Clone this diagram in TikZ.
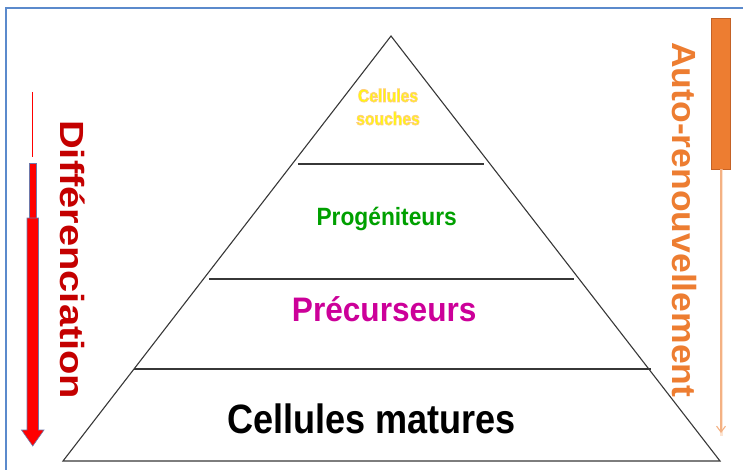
\documentclass[tikz,border=0pt]{standalone}
\usepackage{fontspec}
\setmainfont{Liberation Sans}
\usepackage{graphicx}
\usetikzlibrary{arrows.meta}
\definecolor{framecol}{RGB}{91,138,204}
\definecolor{diffred}{RGB}{196,0,0}
\definecolor{autoorange}{RGB}{237,125,49}
\definecolor{blockorange}{RGB}{237,125,49}
\definecolor{blockedge}{RGB}{196,98,38}
\definecolor{thinorange}{RGB}{244,177,131}
\definecolor{paleorange}{RGB}{250,210,180}
\definecolor{progreen}{RGB}{0,160,0}
\definecolor{premagenta}{RGB}{204,0,153}
\definecolor{souyellow}{RGB}{255,255,0}
\definecolor{arrowedge}{RGB}{110,120,170}
\definecolor{pyrline}{RGB}{55,55,55}
\newcommand\glowon{\special{pdf:literal direct 2 Tr 0.8 w 1 1 0 rg 1 0.8 0.5 RG}}
\newcommand\glowoff{\special{pdf:literal direct 0 Tr}}
\begin{document}
\begin{tikzpicture}[x=1pt,y=-1pt,
  pyr/.style={draw=pyrline,line width=1.1pt,line join=miter},
  layer/.style={draw=pyrline,line width=1.3pt},
  lbl/.style={anchor=base,inner sep=0pt,font=\bfseries},
  vlbl/.style={anchor=base west,inner sep=0pt,rotate=-90,font=\bfseries},
  soutext/.style={anchor=center,inner sep=0pt,align=center,text=souyellow,font=\bfseries\fontsize{18}{23}\selectfont}]
\useasboundingbox (0,0) rectangle (743,470);
% frame
\coordinate (fbl) at (6,470);
\coordinate (ftl) at (6,8);
\coordinate (ftr) at (743,8);
\draw[framecol,line width=2.3pt] (fbl) -- (ftl) -- (ftr);
% pyramid
\coordinate (apex) at (391,36);
\coordinate (bl) at (63,461);
\coordinate (br) at (720,461);
\draw[pyr] (apex) -- (bl) -- (br) -- cycle;
\coordinate (l1a) at (298,164); \coordinate (l1b) at (484,164);
\coordinate (l2a) at (209,279); \coordinate (l2b) at (574,279);
\coordinate (l3a) at (134,369); \coordinate (l3b) at (651,369);
\draw[layer] (l1a) -- (l1b);
\draw[layer] (l2a) -- (l2b);
\draw[layer] (l3a) -- (l3b);
% labels
\node[soutext] (souches) at (388,107) {\glowon\scalebox{0.87}[1]{Cellules}\glowoff\\\glowon\scalebox{0.87}[1]{souches}\glowoff};
\node[lbl,text=progreen] (prog) at (386.7,225.7) {\fontsize{25}{30}\selectfont\scalebox{0.91}[1]{Progéniteurs}};
\node[lbl,text=premagenta] (prec) at (384.2,321) {\fontsize{34}{40}\selectfont\scalebox{0.93}[1]{Précurseurs}};
\node[lbl,text=black] (mat) at (371.7,433.3) {\fontsize{41}{48}\selectfont\scalebox{0.88}[1]{Cellules matures}};
% vertical labels
\node[vlbl,text=diffred] (diff) at (60,120) {\fontsize{33.5}{40}\selectfont\scalebox{1.19}[1]{Différenciation}};
\node[vlbl,text=autoorange] (auto) at (672.5,42) {\fontsize{33.5}{40}\selectfont\scalebox{1.06}[1]{Auto-renouvellement}};
% red arrow
\coordinate (rt0) at (32,92);
\coordinate (rt1) at (32,157);
\draw[red,line width=0.8pt] (rt0) -- (rt1);
\draw[fill=red,draw=arrowedge,line width=0.6pt] (29,163) rectangle (36,218);
\draw[fill=red,draw=arrowedge,line width=0.6pt]
  (27,218) -- (38.5,218) -- (38.5,430) -- (44,430) -- (32.75,446) -- (21.5,430) -- (27,430) -- cycle;
% orange block and thin arrow
\draw[fill=blockorange,draw=blockedge,line width=0.6pt] (711.7,18) rectangle (730,169);
\coordinate (ot) at (721,169);
\coordinate (ob) at (721,433);
\draw[paleorange,line width=3pt,opacity=0.6] (ot) -- ([yshift=-3pt]ob);
\draw[thinorange,line width=1.1pt,-{Straight Barb[length=6pt,width=9pt]}] (ot) -- (ob);
\end{tikzpicture}
\end{document}
